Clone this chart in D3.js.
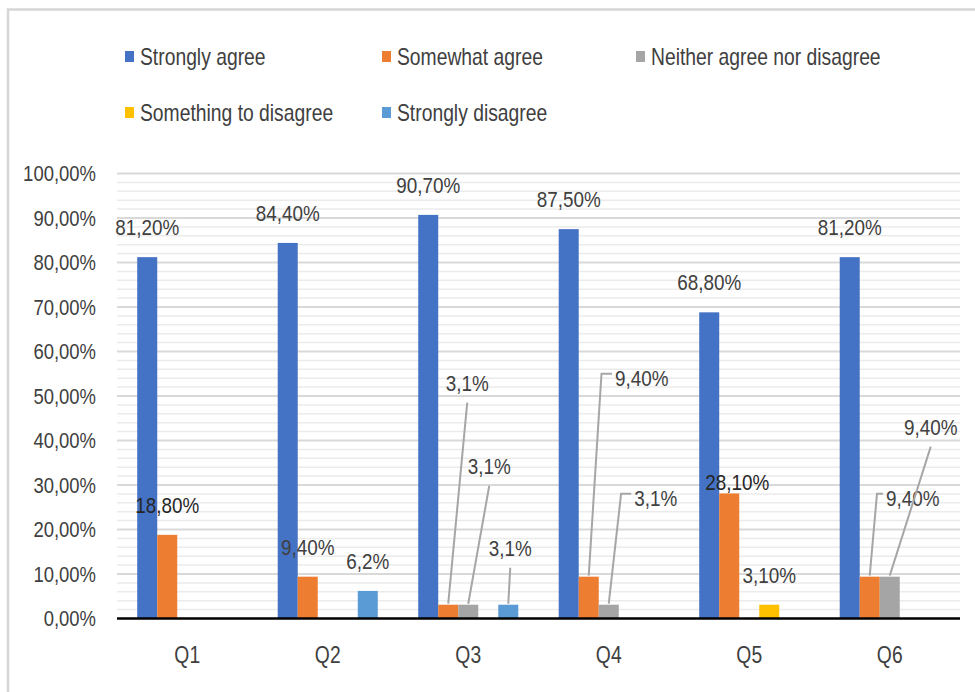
<!DOCTYPE html>
<html>
<head>
<meta charset="utf-8">
<script src="https://cdn.jsdelivr.net/npm/d3@7"></script>
<style>
  body { margin: 0; background: #fff; }
  text { font-family: 'Liberation Sans', Arial, sans-serif; fill: #262626; }
</style>
</head>
<body>
<div id="chart"></div>
<script>
// The data
var categories = ['Q1', 'Q2', 'Q3', 'Q4', 'Q5', 'Q6'];
var seriesNames = ['Strongly agree', 'Somewhat agree', 'Neither agree nor disagree',
                   'Something to disagree', 'Strongly disagree'];
var seriesColors = ['#4472C4', '#ED7D31', '#A5A5A5', '#FFC000', '#5B9BD5'];
var stronglyAgree    = [81.2, 84.4, 90.7, 87.5, 68.8, 81.2];
var somewhatAgree    = [18.8, 9.4, 3.1, 9.4, 28.1, 9.4];
var neitherAgree     = [0, 0, 3.1, 3.1, 0, 9.4];
var somethingDisagree = [0, 0, 0, 0, 3.1, 0];
var stronglyDisagree = [0, 6.2, 3.1, 0, 0, 0];
var yTicks = [0, 10, 20, 30, 40, 50, 60, 70, 80, 90, 100];
// label texts as printed in the chart (null = no label)
var labelTexts = [
  ['81,20%', '84,40%', '90,70%', '87,50%', '68,80%', '81,20%'],
  ['18,80%', '9,40%', '3,1%', '9,40%', '28,10%', '9,40%'],
  [null, null, '3,1%', '3,1%', null, '9,40%'],
  [null, null, null, null, '3,10%', null],
  [null, '6,2%', '3,1%', null, null, null]
];

var series = [stronglyAgree, somewhatAgree, neitherAgree, somethingDisagree, stronglyDisagree];

var width = 975, height = 692;
var margin = { top: 173.5, right: 15, bottom: 73.5, left: 117 };
var narrow = 0.84; // horizontal squeeze of all text (condensed look)

var svg = d3.select('#chart').append('svg')
    .attr('width', width)
    .attr('height', height);

// chart frame (cropped at right and bottom)
svg.append('rect')
    .attr('x', 8).attr('y', 9.5)
    .attr('width', width).attr('height', height)
    .style('fill', 'none')
    .style('stroke', '#d6d6d6')
    .style('stroke-width', 2.5);

var x = d3.scaleBand()
    .domain(categories)
    .range([margin.left, width - margin.right]);

var xs = d3.scaleBand()
    .domain(d3.range(series.length))
    .range([0, x.bandwidth()])
    .paddingOuter(1.01);

var y = d3.scaleLinear()
    .domain([0, 100])
    .range([height - margin.bottom, margin.top]);

// minor gridlines every 2%
svg.append('g').selectAll('line')
    .data(d3.range(2, 100, 2).filter(function(d) { return d % 10 !== 0; }))
    .enter().append('line')
      .attr('x1', margin.left).attr('x2', width - margin.right)
      .attr('y1', function(d) { return y(d); })
      .attr('y2', function(d) { return y(d); })
      .style('stroke', '#ebebeb')
      .style('stroke-width', 1.5);

// major gridlines
svg.append('g').selectAll('line')
    .data(yTicks.slice(1))
    .enter().append('line')
      .attr('x1', margin.left).attr('x2', width - margin.right)
      .attr('y1', function(d) { return y(d); })
      .attr('y2', function(d) { return y(d); })
      .style('stroke', '#d9d9d9')
      .style('stroke-width', 2);

// y axis labels
var yAxis = d3.axisLeft(y)
    .tickValues(yTicks)
    .tickSize(0)
    .tickPadding(21)
    .tickFormat(function(d) { return d3.format('.2f')(d).replace('.', ',') + '%'; });

svg.append('g')
    .attr('transform', 'translate(' + margin.left + ',0)')
    .call(yAxis)
    .call(function(g) { g.select('.domain').remove(); })
    .selectAll('text')
      .style('font-size', '22px')
      .style('fill', '#404040')
      .attr('font-family', null);

// bars
var groups = svg.append('g').selectAll('g')
    .data(categories)
    .enter().append('g')
      .attr('transform', function(d) { return 'translate(' + x(d) + ',0)'; });

groups.selectAll('rect')
    .data(function(d, i) {
      return series.map(function(s, j) { return { s: j, v: s[i] }; })
                   .filter(function(e) { return e.v > 0; });
    })
    .enter().append('rect')
      .attr('x', function(d) { return xs(d.s); })
      .attr('y', function(d) { return y(d.v); })
      .attr('width', xs.bandwidth())
      .attr('height', function(d) { return y(0) - y(d.v); })
      .style('fill', function(d) { return seriesColors[d.s]; });

// x axis
var xAxis = d3.axisBottom(x).tickSize(0).tickPadding(28);
var xg = svg.append('g')
    .attr('transform', 'translate(0,' + y(0) + ')')
    .call(xAxis);
xg.select('.domain')
    .attr('d', 'M' + margin.left + ',0H' + (width - margin.right))
    .style('stroke', '#000')
    .style('stroke-width', 2.5);
xg.selectAll('text')
    .style('font-size', '23px')
    .style('fill', '#404040')
    .attr('font-family', null);

// data labels: offsets (dx, dy) of label centre from bar top centre, and leader line type
var labelOffsets = {
  '2,1': { dx: 19, dy: -222, leader: 'straight' },
  '2,2': { dx: 21, dy: -139, leader: 'straight' },
  '2,4': { dx: 2, dy: -57, leader: 'straight' },
  '3,1': { dx: 53, dy: -199, leader: 'elbow' },
  '3,2': { dx: 47, dy: -107, leader: 'elbow' },
  '4,1': { dx: 8, dy: -11 },
  '5,1': { dx: 43, dy: -79, leader: 'elbow' },
  '5,2': { dx: 41, dy: -150, leader: 'straight' }
};

var labels = svg.append('g');
series.forEach(function(s, j) {
  categories.forEach(function(c, i) {
    var t = labelTexts[j][i];
    if (!t) return;
    var cx = x(c) + xs(j) + xs.bandwidth() / 2;
    var top = y(s[i]);
    var o = labelOffsets[i + ',' + j] || { dx: 0, dy: -30 };
    var lx = cx + o.dx, ly = top + o.dy;
    var txt = labels.append('text')
        .attr('x', lx)
        .attr('y', ly)
        .attr('dy', '0.35em')
        .attr('text-anchor', 'middle')
        .style('font-size', '22.5px')
        .style('fill', (j === 1 && (i === 4 || i === 0)) ? '#262626' : '#404040')
        .text(t);
    if (o.leader) {
      var w = txt.node().getComputedTextLength() * narrow;
      var path;
      if (o.leader === 'straight') {
        path = 'M' + cx + ',' + (top - 1) + 'L' + lx + ',' + (ly + 20);
      } else {
        var ex = lx - w / 2 - 3;
        path = 'M' + cx + ',' + (top - 1) + 'L' + (cx + (ex - cx) * 0.55) + ',' + (ly - 4) + 'H' + ex;
      }
      labels.append('path')
          .attr('d', path)
          .style('fill', 'none')
          .style('stroke', '#a6a6a6')
          .style('stroke-width', 2);
    }
  });
});

// legend
var legendItems = [
  { s: 0, x: 125, y: 57 }, { s: 1, x: 382, y: 57 }, { s: 2, x: 636, y: 57 },
  { s: 3, x: 125, y: 113 }, { s: 4, x: 382, y: 113 }
];
var legend = svg.append('g').selectAll('g')
    .data(legendItems)
    .enter().append('g')
      .attr('transform', function(d) { return 'translate(' + d.x + ',' + d.y + ')'; });
legend.append('rect')
    .attr('x', 0).attr('y', -6)
    .attr('width', 9).attr('height', 11)
    .style('fill', function(d) { return seriesColors[d.s]; });
legend.append('text')
    .attr('x', 15)
    .attr('dy', '0.35em')
    .style('font-size', '23px')
    .style('fill', '#404040')
    .text(function(d) { return seriesNames[d.s]; });

// squeeze every text horizontally around its own anchor
svg.selectAll('text').each(function() {
  var t = d3.select(this);
  var xv = +t.attr('x') || 0;
  t.attr('x', xv / narrow)
   .attr('transform', 'scale(' + narrow + ',1)');
});
</script>
</body>
</html>
